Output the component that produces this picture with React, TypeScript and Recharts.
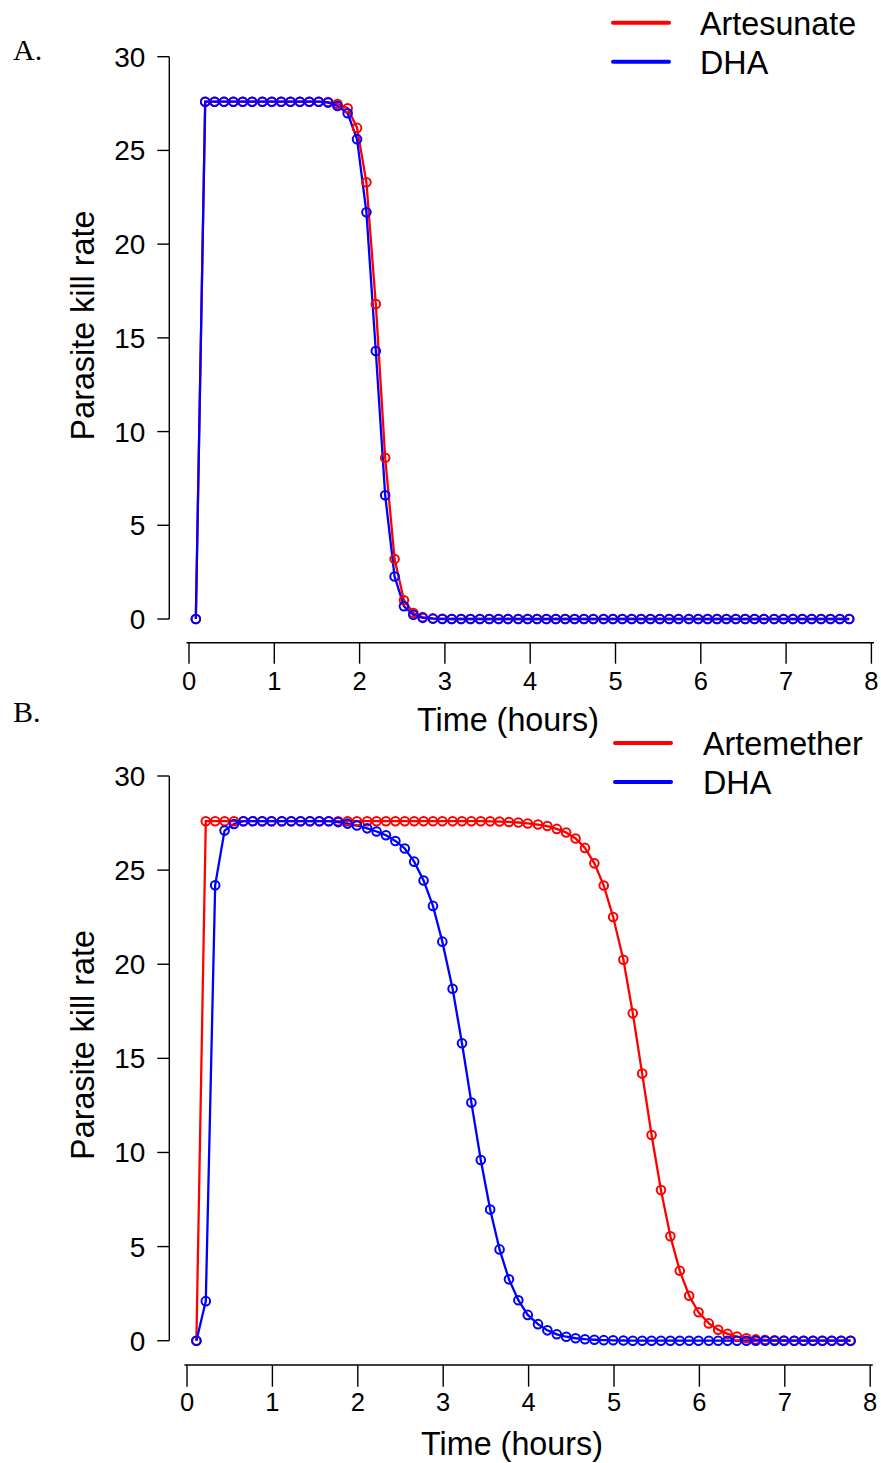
import React from 'react';
import { LineChart, Line, XAxis, YAxis, ReferenceLine } from 'recharts';

const FONT = '"Liberation Sans", Arial, Helvetica, sans-serif';
const SERIF = '"Liberation Serif", "Times New Roman", serif';

// ---------- Panel A data ----------
const timeA = [
  0.08, 0.19, 0.30, 0.41, 0.52, 0.63, 0.74, 0.86, 0.97,
  1.08, 1.19, 1.30, 1.41, 1.52, 1.63, 1.74, 1.86, 1.97,
  2.08, 2.19, 2.30, 2.41, 2.52, 2.63, 2.74, 2.86, 2.97,
  3.08, 3.19, 3.30, 3.41, 3.52, 3.63, 3.74, 3.86, 3.97,
  4.08, 4.19, 4.30, 4.41, 4.52, 4.63, 4.74, 4.86, 4.97,
  5.08, 5.19, 5.30, 5.41, 5.52, 5.63, 5.74, 5.86, 5.97,
  6.08, 6.19, 6.30, 6.41, 6.52, 6.63, 6.74, 6.86, 6.97,
  7.08, 7.19, 7.30, 7.41, 7.52, 7.63, 7.74,
];
const artesunateA = [
  0, 27.6, 27.6, 27.6, 27.6, 27.6, 27.6, 27.6, 27.6,
  27.6, 27.6, 27.6, 27.6, 27.6, 27.58, 27.48, 27.25, 26.2,
  23.3, 16.8, 8.6, 3.2, 1.0, 0.32, 0.1, 0.03, 0.01,
  0, 0, 0, 0, 0, 0, 0, 0, 0,
  0, 0, 0, 0, 0, 0, 0, 0, 0,
  0, 0, 0, 0, 0, 0, 0, 0, 0,
  0, 0, 0, 0, 0, 0, 0, 0, 0,
  0, 0, 0, 0, 0, 0, 0,
];
const dhaA = [
  0, 27.6, 27.6, 27.6, 27.6, 27.6, 27.6, 27.6, 27.6,
  27.6, 27.6, 27.6, 27.6, 27.6, 27.55, 27.37, 26.98, 25.6,
  21.7, 14.3, 6.6, 2.27, 0.68, 0.22, 0.06, 0.02, 0,
  0, 0, 0, 0, 0, 0, 0, 0, 0,
  0, 0, 0, 0, 0, 0, 0, 0, 0,
  0, 0, 0, 0, 0, 0, 0, 0, 0,
  0, 0, 0, 0, 0, 0, 0, 0, 0,
  0, 0, 0, 0, 0, 0, 0,
];

// ---------- Panel B data ----------
const timeB = [
  0.11, 0.22, 0.33, 0.44, 0.55, 0.66, 0.77, 0.88, 0.99,
  1.11, 1.22, 1.33, 1.44, 1.55, 1.66, 1.77, 1.88, 1.99,
  2.11, 2.22, 2.33, 2.44, 2.55, 2.66, 2.77, 2.88, 2.99,
  3.11, 3.22, 3.33, 3.44, 3.55, 3.66, 3.77, 3.88, 3.99,
  4.11, 4.22, 4.33, 4.44, 4.55, 4.66, 4.77, 4.88, 4.99,
  5.11, 5.22, 5.33, 5.44, 5.55, 5.66, 5.77, 5.88, 5.99,
  6.11, 6.22, 6.33, 6.44, 6.55, 6.66, 6.77, 6.88, 6.99,
  7.11, 7.22, 7.33, 7.44, 7.55, 7.66, 7.77,
];
const artemetherB = [
  0, 27.6, 27.6, 27.6, 27.6, 27.6, 27.6, 27.6, 27.6,
  27.6, 27.6, 27.6, 27.6, 27.6, 27.6, 27.6, 27.6, 27.6,
  27.6, 27.6, 27.6, 27.6, 27.6, 27.6, 27.6, 27.6, 27.6,
  27.6, 27.6, 27.6, 27.6, 27.59, 27.58, 27.56, 27.53, 27.48,
  27.42, 27.34, 27.19, 27.0, 26.68, 26.18, 25.36, 24.18, 22.51,
  20.24, 17.39, 14.19, 10.93, 8.0, 5.55, 3.72, 2.39, 1.51,
  0.92, 0.58, 0.36, 0.22, 0.13, 0.07, 0.04, 0.02, 0.01,
  0, 0, 0, 0, 0, 0, 0,
];
const dhaB = [
  0, 2.1, 24.2, 27.1, 27.45, 27.6, 27.6, 27.6, 27.6,
  27.6, 27.6, 27.6, 27.6, 27.6, 27.6, 27.55, 27.47, 27.37,
  27.22, 27.05, 26.85, 26.55, 26.15, 25.45, 24.45, 23.1, 21.2,
  18.7, 15.8, 12.65, 9.6, 6.97, 4.85, 3.26, 2.15, 1.37,
  0.88, 0.55, 0.34, 0.21, 0.13, 0.08, 0.05, 0.03, 0.02,
  0.01, 0, 0, 0, 0, 0, 0, 0, 0,
  0, 0, 0, 0, 0, 0, 0, 0, 0,
  0, 0, 0, 0, 0, 0, 0,
];

const xTicks = [0, 1, 2, 3, 4, 5, 6, 7, 8];
const yTicks = [0, 5, 10, 15, 20, 25, 30];

const RED = '#ff0000';
const BLUE = '#0000ff';

type Geom = {
  top: number;
  height: number;
  marginTop: number;
  marginBottom: number;
  xmin: number;
  xmax: number;
  ymin: number;
  tickLen: number;
  tickMargin: number;
};

function Panel({ times, red, blue, g }: { times: number[]; red: number[]; blue: number[]; g: Geom }) {
  const data = times.map((t, i) => ({ t, red: red[i], blue: blue[i] }));
  return (
    <div style={{ position: 'absolute', left: 0, top: g.top }}>
      <LineChart
        width={881}
        height={g.height}
        data={data}
        margin={{ top: g.marginTop, right: 6, left: 0, bottom: g.marginBottom }}
      >
        <XAxis
          dataKey="t"
          type="number"
          domain={[g.xmin, g.xmax]}
          allowDataOverflow
          ticks={xTicks}
          interval={0}
          axisLine={false}
          tickLine={{ stroke: '#000', strokeWidth: 1.4 }}
          tickSize={g.tickLen}
          tickMargin={g.tickMargin}
          height={60}
          tick={{ fontSize: 25.5, fill: '#000', fontFamily: FONT }}
        />
        <YAxis
          type="number"
          domain={[g.ymin, 30]}
          allowDataOverflow
          ticks={yTicks}
          interval={0}
          axisLine={false}
          tickLine={{ stroke: '#000', strokeWidth: 1.4 }}
          tickSize={12}
          tickMargin={12}
          width={169.3}
          tick={{ fontSize: 28, fill: '#000', fontFamily: FONT }}
        />
        <ReferenceLine
          segment={[{ x: -0.03, y: g.ymin }, { x: 8.03, y: g.ymin }]}
          stroke="#000"
          strokeWidth={1.6}
          ifOverflow="visible"
        />
        <ReferenceLine
          segment={[{ x: g.xmin, y: 0 }, { x: g.xmin, y: 30 }]}
          stroke="#000"
          strokeWidth={1.4}
          ifOverflow="visible"
        />
        <Line
          type="linear"
          dataKey="red"
          stroke={RED}
          strokeWidth={2.3}
          dot={{ r: 4.3, stroke: RED, strokeWidth: 2, fill: 'none' }}
          activeDot={false}
          isAnimationActive={false}
        />
        <Line
          type="linear"
          dataKey="blue"
          stroke={BLUE}
          strokeWidth={2.3}
          dot={{ r: 4.3, stroke: BLUE, strokeWidth: 2, fill: 'none' }}
          activeDot={false}
          isAnimationActive={false}
        />
      </LineChart>
    </div>
  );
}

const geomA: Geom = {
  top: 0,
  height: 730,
  marginTop: 56.7,
  marginBottom: 730 - 642.7 - 60,
  xmin: (169.3 - 189) / 85.3,
  xmax: (875 - 189) / 85.3,
  ymin: -(642.7 - 619) / ((619 - 56.7) / 30),
  tickLen: 21,
  tickMargin: 8,
};

const geomB: Geom = {
  top: 725,
  height: 738,
  marginTop: 776 - 725,
  marginBottom: 738 - (1365 - 725) - 60,
  xmin: (169.3 - 187) / 85.4,
  xmax: (875 - 187) / 85.4,
  ymin: -(1365 - 1340.7) / ((1340.7 - 776) / 30),
  tickLen: 21.7,
  tickMargin: 6.5,
};

function Overlay() {
  const txt = { fontFamily: FONT, fontSize: 32.3, fill: '#000' } as const;
  return (
    <svg
      width={881}
      height={1463}
      style={{ position: 'absolute', left: 0, top: 0, pointerEvents: 'none' }}
    >
      <text x={13} y={60} style={{ fontFamily: SERIF, fontSize: 30, fill: '#000' }}>A.</text>
      <text x={13} y={722} style={{ fontFamily: SERIF, fontSize: 30, fill: '#000' }}>B.</text>

      {/* legend A */}
      <line x1={613} y1={22.7} x2={669} y2={22.7} stroke={RED} strokeWidth={4} strokeLinecap="round" />
      <line x1={613} y1={61.7} x2={669} y2={61.7} stroke={BLUE} strokeWidth={4} strokeLinecap="round" />
      <text x={700} y={35} style={txt}>Artesunate</text>
      <text x={700} y={74} style={txt}>DHA</text>

      {/* legend B */}
      <line x1={615} y1={743} x2={671} y2={743} stroke={RED} strokeWidth={4} strokeLinecap="round" />
      <line x1={615} y1={782} x2={671} y2={782} stroke={BLUE} strokeWidth={4} strokeLinecap="round" />
      <text x={703} y={755} style={txt}>Artemether</text>
      <text x={703} y={794} style={txt}>DHA</text>

      {/* axis titles */}
      <text x={508} y={731} textAnchor="middle" style={txt}>Time (hours)</text>
      <text x={512} y={1455} textAnchor="middle" style={txt}>Time (hours)</text>
      <text x={94} y={325.5} textAnchor="middle" transform="rotate(-90 94 325.5)" style={txt}>
        Parasite kill rate
      </text>
      <text x={94} y={1045} textAnchor="middle" transform="rotate(-90 94 1045)" style={txt}>
        Parasite kill rate
      </text>
    </svg>
  );
}

export default function App() {
  return (
    <div
      style={{
        position: 'absolute',
        left: 0,
        top: 0,
        width: 881,
        height: 1463,
        background: '#fff',
        overflow: 'hidden',
      }}
    >
      <Panel times={timeA} red={artesunateA} blue={dhaA} g={geomA} />
      <Panel times={timeB} red={artemetherB} blue={dhaB} g={geomB} />
      <Overlay />
    </div>
  );
}
